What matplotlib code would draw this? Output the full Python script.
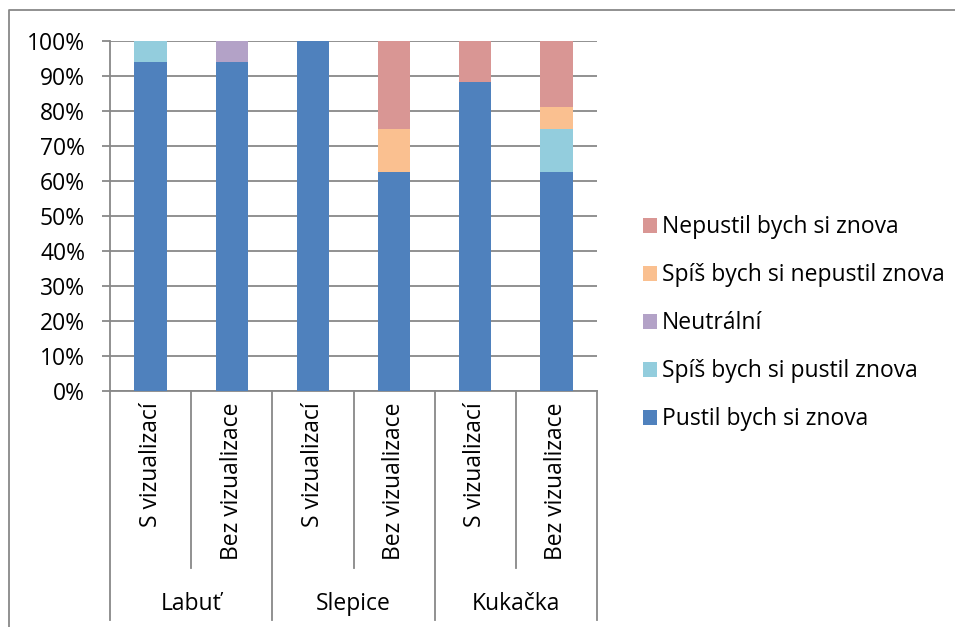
import numpy as np
import matplotlib
matplotlib.use("Agg")
import matplotlib.pyplot as plt
from matplotlib.lines import Line2D
from matplotlib.patches import Patch

# Data (procenta)
groups = ["Labuť", "Slepice", "Kukačka"]
subcats = ["S vizualizací", "Bez vizualizace"]
series = ["Pustil bych si znova", "Spíš bych si pustil znova", "Neutrální",
          "Spíš bych si nepustil znova", "Nepustil bych si znova"]
pustil = [94.0, 94.0, 100.0, 62.5, 88.2, 62.5]
spis_pustil = [6.0, 0.0, 0.0, 0.0, 0.0, 12.5]
neutralni = [0.0, 6.0, 0.0, 0.0, 0.0, 0.0]
spis_nepustil = [0.0, 0.0, 0.0, 12.5, 0.0, 6.25]
nepustil = [0.0, 0.0, 0.0, 25.0, 11.8, 18.75]
colors = ["#4F81BD", "#93CDDD", "#B3A2C7", "#FAC090", "#D99694"]

plt.rcParams['font.family'] = ['Open Sans', 'DejaVu Sans']
FS = 16.5
W, H = 955, 627
fig = plt.figure(figsize=(W / 100, H / 100), dpi=100)

# Plocha grafu v pixelech
x0, x1, y0, y1 = 110, 597, 41, 391
ax = fig.add_axes([x0 / W, 1 - y1 / H, (x1 - x0) / W, (y1 - y0) / H])

grid_c = "#888888"
n = len(pustil)
x = np.arange(n)
bottom = np.zeros(n)
for vals, c in zip([pustil, spis_pustil, neutralni, spis_nepustil, nepustil], colors):
    ax.bar(x, vals, 0.4, bottom=bottom, color=c, zorder=3)
    bottom += np.array(vals)

ax.set_xlim(-0.5, n - 0.5)
ax.set_ylim(0, 100)
ax.set_yticks(np.arange(0, 101, 10))
ax.set_yticklabels([f"{v}%" for v in range(0, 101, 10)], fontsize=FS)
ax.set_xticks([])
ax.grid(axis="y", color=grid_c, linewidth=1.3, zorder=0)
ax.tick_params(axis="y", length=6, width=1.3, color=grid_c, pad=12)
for s in ["top", "right"]:
    ax.spines[s].set_visible(False)
for s in ["left", "bottom"]:
    ax.spines[s].set_color(grid_c)
    ax.spines[s].set_linewidth(1.3)

# Popisky kategorii pod osou (ve stylu tabulky)
step = (x1 - x0) / n
def fx(px):
    return px / W
def fy(py):
    return 1 - py / H

for i in range(n + 1):
    px = x0 + i * step
    end = 620 if i % 2 == 0 else 568
    fig.add_artist(Line2D([fx(px), fx(px)], [fy(y1), fy(end)], color=grid_c, linewidth=1.3))

for i in range(n):
    cx = x0 + (i + 0.5) * step
    fig.text(fx(cx), fy(402), subcats[i % 2], rotation=90, ha="center", va="top", fontsize=FS)
for g, name in enumerate(groups):
    cx = x0 + (2 * g + 1) * step
    fig.text(fx(cx), fy(604), name, ha="center", va="center", fontsize=FS)

# Ramecek grafu
fig.add_artist(Line2D([fx(9), fx(9), fx(960)], [fy(640), fy(10), fy(10)], color=grid_c, linewidth=1.3))

# Legenda
handles = [Patch(facecolor=c) for c in colors][::-1]
fig.legend(handles, series[::-1], loc="upper left", bbox_to_anchor=(fx(634), fy(206)),
           frameon=False, fontsize=FS, handlelength=0.62, handleheight=0.62,
           handletextpad=0.2, labelspacing=1.05, borderaxespad=0)

fig.savefig("out.png", dpi=100)
